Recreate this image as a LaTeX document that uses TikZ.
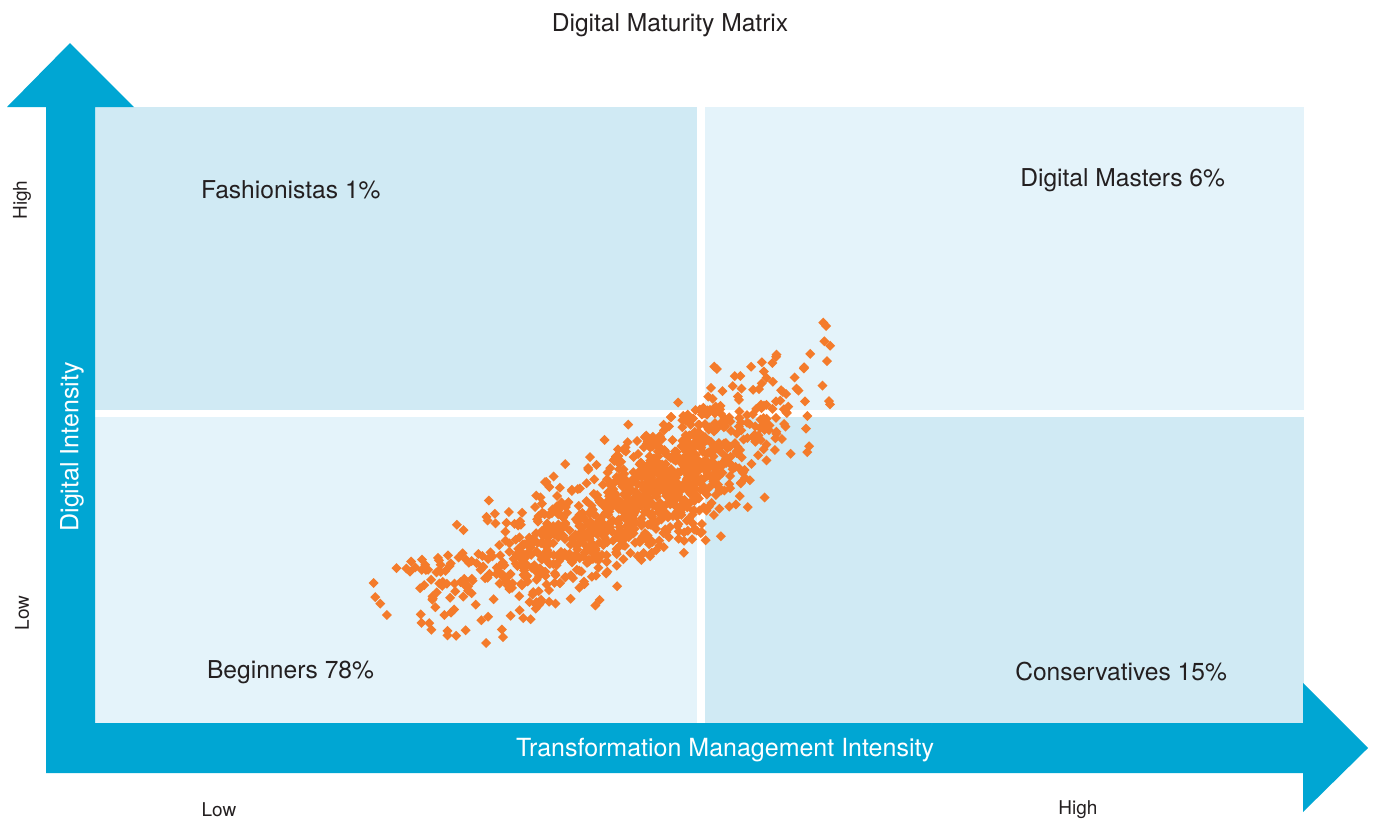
\documentclass[tikz,border=0pt]{standalone}
\usepackage{fontspec}
\setmainfont{TeX Gyre Heros}

\definecolor{axisblue}{HTML}{00A6D3}
\definecolor{celldark}{HTML}{D0EAF4}
\definecolor{celllight}{HTML}{E4F3FA}
\definecolor{dotorange}{HTML}{F47B2B}
\definecolor{inkgray}{HTML}{231F20}

\tikzset{
  quadtext/.style={font=\fontsize{12.3}{14}\selectfont, text=inkgray},
  axistext/.style={font=\fontsize{12.5}{15}\selectfont, text=white},
  endtext/.style={font=\fontsize{9.5}{11}\selectfont, text=inkgray},
}

\begin{document}
\begin{tikzpicture}[x=0.5pt,y=-0.5pt]
\useasboundingbox (0,0) rectangle (1375,821);

 \fill[celldark]  (95,107) rectangle (697,410);
 \fill[celllight] (705,107) rectangle (1304,410);
 \fill[celllight] (95,417) rectangle (697,723);
 \fill[celldark]  (705,417) rectangle (1304,723);

 % both axes as one arrow shape
 \fill[axisblue] (46,773)--(46,107)--(7,107)--(70,43)--(134,107)--(95,107)--(95,723)
   --(1303,723)--(1303,683)--(1368,748)--(1303,812)--(1303,773)--cycle;

 \node[quadtext] at (670,25) (title) {Digital Maturity Matrix};
 \node[axistext, rotate=90] at (72,447) (yaxis) {Digital Intensity};
 \node[axistext] at (725,750) (xaxis) {Transformation Management Intensity};

 \node[endtext, rotate=90] at (22,200) (yhigh) {High};
 \node[endtext, rotate=90] at (22,613) (ylow) {Low};
 \node[endtext] at (219,810) (xlow) {Low};
 \node[endtext] at (1078,810) (xhigh) {High};

 \node[quadtext, anchor=west] at (194,190) (fash) {Fashionistas 1\%};
 \node[quadtext, anchor=east] at (1232,180) (masters) {Digital Masters 6\%};
 \node[quadtext, anchor=west] at (200,672) (begin) {Beginners 78\%};
 \node[quadtext, anchor=east] at (1234,672) (cons) {Conservatives 15\%};

 % companies
 \pgfmathsetseed{11}
 \foreach \i in {1,...,1150}{
   \pgfmathsetmacro\ta{rand+rand+rand}
   \pgfmathsetmacro\tb{rand+rand+rand}
   \pgfmathsetmacro\tc{rand+rand+rand}
   \pgfmathsetmacro\qq{\ta<0 ? 1.05*\ta : 0.78*\ta}
   \pgfmathsetmacro\px{635+100*\qq+14*\tc}
   \pgfmathsetmacro\py{500-55*\qq-6*\qq*\qq+30*\tb}
   \fill[dotorange] (\px,\py-5)--(\px+5,\py)--(\px,\py+5)--(\px-5,\py)--cycle;
 }
% \fill[red] (640,500) circle (5);
\end{tikzpicture}
\end{document}
